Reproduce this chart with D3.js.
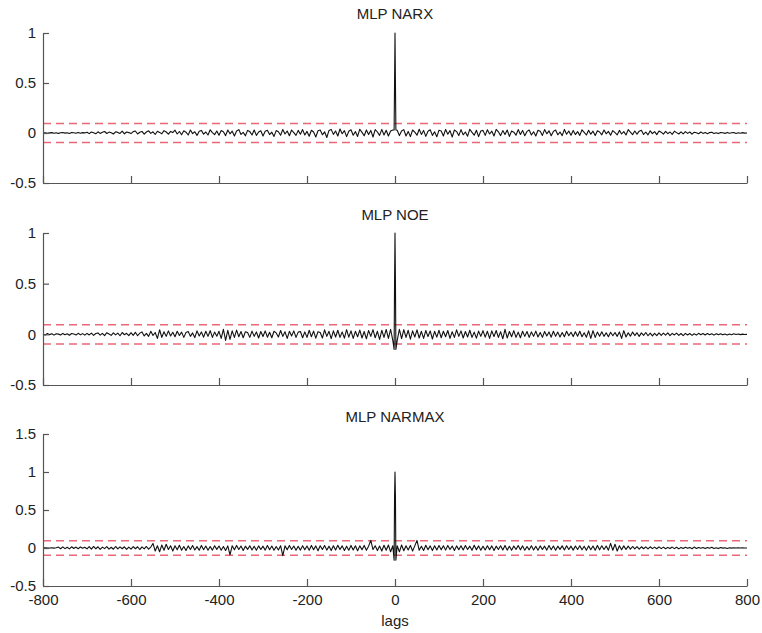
<!DOCTYPE html>
<html><head><meta charset="utf-8">
<script src="https://cdn.jsdelivr.net/npm/d3@7"></script>
<style>
body{margin:0;background:#fff}
text{font-family:"Liberation Sans",Arial,Helvetica,sans-serif}
</style>
</head><body>
<svg id="chart" width="762" height="633"></svg>
<script>
// ---------- data ----------
const titles = ["MLP NARX", "MLP NOE", "MLP NARMAX"];
const lags = d3.range(-800, 801, 5);          // lag categories, every 5 lags
const xTicks = [-800, -600, -400, -200, 0, 200, 400, 600, 800];
const xTickLabels = ["-800", "-600", "-400", "-200", "0", "200", "400", "600", "800"];
const yTicksTop = [-0.5, 0, 0.5, 1];
const yTicksBottom = [-0.5, 0, 0.5, 1, 1.5];
const confBound = 0.095;                      // 95% confidence band (±)
const nearLags = [-2, -1, 1, 2];              // lags right beside the zero-lag peak

const narx = [
0,0.002,-0.003,0.001,0.004,-0.002,0.003,-0.004,0.002,0.005,-0.001,0.003,-0.005,0.004,0.002,-0.003,0.006,-0.002,0.004,0.001,
0.008,-0.006,0.01,0.003,-0.008,0.012,-0.004,0.007,0.015,-0.005,0.009,0.002,-0.01,0.012,0.006,-0.004,0.018,-0.008,0.01,0.004,
-0.006,0.014,0.02,-0.01,0.008,0.016,-0.012,0.01,0.022,-0.004,0.012,-0.015,0.018,0.006,-0.008,0.024,0.01,-0.012,0.016,0.004,
0.028,-0.01,0.015,-0.018,0.022,0.008,-0.02,0.03,-0.006,0.012,-0.024,0.018,0.026,-0.012,0.01,-0.02,0.032,0.004,-0.016,0.02,
-0.022,0.024,0.012,-0.026,0.03,-0.008,0.018,-0.03,0.02,0.034,-0.014,0.006,-0.028,0.026,0.014,-0.02,0.03,-0.024,0.01,0.022,
-0.03,0.018,0.028,-0.016,0.008,-0.034,0.024,0.012,-0.022,0.036,-0.01,0.02,-0.028,0.03,0.004,-0.024,0.026,-0.012,0.034,-0.02,
0.016,-0.032,0.028,0.01,-0.04,0.022,0.03,-0.018,0.012,-0.045,0.026,0.036,-0.014,0.02,-0.03,0.04,-0.008,0.024,-0.036,0.018,
0.032,-0.022,0.014,-0.034,0.038,0.006,-0.028,0.03,-0.016,0.026,-0.04,0.034,0.01,-0.024,0.036,-0.02,0.028,-0.03,0.02,0.03,
1,
0.028,-0.026,0.02,0.034,-0.03,0.016,-0.036,0.03,0.008,-0.022,0.038,-0.014,0.026,-0.034,0.018,0.032,-0.024,0.012,-0.038,0.028,
0.02,-0.03,0.036,-0.012,0.024,-0.04,0.03,0.014,-0.026,0.034,-0.018,0.01,-0.032,0.038,0.006,-0.022,0.028,-0.036,0.02,0.026,
-0.024,0.032,-0.01,0.018,-0.03,0.036,0.012,-0.026,0.024,-0.016,0.03,-0.034,0.02,0.008,-0.022,0.034,-0.014,0.026,-0.028,0.016,
0.03,-0.02,0.012,-0.03,0.028,0.018,-0.024,0.034,-0.008,0.022,-0.028,0.016,0.03,-0.018,0.01,-0.026,0.036,-0.012,0.02,-0.022,
0.026,-0.016,0.014,-0.024,0.032,0.006,-0.02,0.028,-0.012,0.018,-0.026,0.022,0.01,-0.018,0.03,-0.008,0.016,-0.022,0.024,0.004,
-0.018,0.026,-0.01,0.014,-0.02,0.034,0.008,-0.016,0.02,-0.012,0.018,0.028,-0.014,0.01,-0.018,0.022,-0.006,0.014,-0.016,0.02,
0.008,-0.012,0.016,-0.006,0.01,-0.014,0.018,0.004,-0.01,0.012,-0.008,0.014,-0.004,0.01,-0.012,0.008,0.002,-0.008,0.01,-0.004,
0.006,-0.008,0.004,0.007,-0.005,0.003,-0.006,0.005,0.002,-0.004,0.006,-0.003,0.002,0.004,-0.005,0.003,-0.002,0.004,-0.001,0
];
const noe = [
0.004,-0.006,0.008,-0.003,0.005,-0.008,0.006,0.002,-0.007,0.009,-0.004,0.006,-0.009,0.008,0.003,-0.006,0.01,-0.005,0.007,-0.008,
0.01,-0.006,0.012,-0.01,0.008,0.014,-0.008,0.01,-0.012,0.016,0.004,-0.01,0.014,-0.006,0.012,-0.014,0.018,-0.004,0.01,-0.012,
0.016,-0.01,0.02,-0.014,0.012,0.024,-0.016,0.01,-0.02,0.03,-0.012,0.018,-0.04,0.045,-0.03,0.026,-0.02,0.034,-0.016,0.02,
-0.024,0.03,-0.012,0.022,-0.03,0.018,0.028,-0.02,0.014,-0.032,0.034,-0.016,0.024,-0.028,0.03,-0.02,0.036,-0.03,0.022,-0.018,
0.03,-0.04,0.05,-0.06,0.04,-0.05,0.034,-0.03,0.042,-0.024,0.028,-0.034,0.026,0.018,-0.03,0.032,-0.02,0.024,-0.036,0.028,
-0.022,0.034,-0.028,0.02,-0.034,0.03,0.014,-0.026,0.038,-0.02,0.026,-0.04,0.03,-0.016,0.034,-0.03,0.022,0.028,-0.034,0.024,
-0.03,0.04,-0.024,0.032,-0.038,0.026,0.018,-0.036,0.044,-0.02,0.03,-0.042,0.034,-0.026,0.04,-0.03,0.024,-0.038,0.046,-0.028,
0.034,-0.04,0.03,-0.024,0.042,-0.036,0.028,-0.044,0.038,-0.02,0.046,-0.034,0.03,-0.05,0.04,-0.03,0.048,-0.04,0.05,-0.06,
1,
-0.06,0.05,-0.042,0.046,-0.03,0.04,-0.048,0.034,-0.026,0.044,-0.036,0.03,-0.04,0.038,-0.022,0.034,-0.046,0.03,-0.028,0.04,
-0.034,0.03,-0.024,0.038,-0.04,0.026,-0.03,0.044,-0.02,0.034,-0.036,0.028,-0.026,0.04,-0.03,0.022,-0.038,0.032,-0.02,0.036,
-0.028,0.03,-0.04,0.034,-0.022,0.038,-0.03,0.026,-0.044,0.05,-0.036,0.028,-0.024,0.036,-0.03,0.022,-0.034,0.03,-0.02,0.028,
-0.03,0.024,-0.02,0.032,-0.026,0.018,-0.03,0.028,-0.016,0.024,-0.028,0.03,-0.02,0.022,-0.026,0.018,-0.024,0.03,-0.014,0.02,
-0.022,0.026,-0.018,0.03,-0.024,0.016,-0.028,0.034,-0.04,0.036,-0.03,0.022,-0.018,0.026,-0.02,0.016,-0.024,0.02,-0.014,0.018,
-0.02,0.024,-0.04,0.036,-0.026,0.016,-0.018,0.022,-0.012,0.016,-0.02,0.014,-0.01,0.018,-0.014,0.012,-0.016,0.01,-0.012,0.014,
-0.01,0.012,-0.008,0.014,-0.012,0.01,-0.006,0.012,-0.01,0.008,-0.012,0.01,-0.006,0.008,-0.01,0.006,-0.008,0.01,-0.004,0.008,
-0.006,0.008,-0.004,0.006,-0.008,0.005,-0.003,0.006,-0.005,0.004,-0.006,0.003,-0.004,0.005,-0.002,0.004,-0.003,0.002,-0.001,0
];
const narmax = [
0,0.002,-0.002,0.001,0.003,-0.002,0.004,0.012,-0.01,0.014,-0.008,0.01,-0.012,0.016,-0.006,0.012,-0.01,0.014,-0.004,0.01,
-0.012,0.018,-0.014,0.02,-0.01,0.016,-0.018,0.012,-0.008,0.018,-0.014,0.01,-0.016,0.02,-0.012,0.014,-0.01,0.016,-0.018,0.012,
-0.014,0.018,-0.01,0.016,-0.02,0.014,-0.012,0.02,-0.016,0.012,0.06,-0.04,0.03,-0.05,0.04,-0.03,0.05,-0.02,0.03,-0.04,
0.03,-0.024,0.036,-0.03,0.02,-0.034,0.028,-0.02,0.032,-0.026,0.018,-0.03,0.034,-0.022,0.026,-0.03,0.02,-0.028,0.03,-0.018,
0.026,-0.03,0.02,-0.032,0.028,-0.09,0.03,-0.024,0.034,-0.02,0.026,-0.032,0.024,-0.018,0.03,-0.026,0.022,-0.03,0.028,-0.02,
0.024,-0.028,0.032,-0.022,0.026,-0.03,0.02,-0.026,0.03,-0.1,0.028,-0.024,0.034,-0.02,0.026,-0.03,0.022,-0.028,0.03,-0.024,
0.026,-0.03,0.034,-0.022,0.028,-0.036,0.03,-0.02,0.032,-0.028,0.024,-0.034,0.03,-0.026,0.036,-0.02,0.028,-0.032,0.024,-0.03,
0.034,-0.026,0.03,-0.036,0.028,-0.022,0.034,-0.03,0.024,0.1,-0.02,0.03,-0.034,0.026,-0.04,0.036,-0.03,0.04,-0.05,0.03,
1,
0.03,-0.05,0.04,-0.036,0.03,-0.026,0.034,-0.04,0.028,0.1,-0.03,0.024,-0.032,0.036,-0.022,0.028,-0.034,0.03,-0.026,0.032,
-0.024,0.03,-0.028,0.034,-0.02,0.026,-0.032,0.028,-0.022,0.03,-0.026,0.032,-0.02,0.024,-0.03,0.036,-0.024,0.028,-0.03,0.022,
-0.026,0.03,-0.022,0.028,-0.032,0.024,-0.02,0.03,-0.026,0.034,-0.028,0.022,-0.03,0.026,-0.02,0.032,-0.024,0.028,-0.03,0.02,
-0.024,0.03,-0.026,0.022,-0.03,0.028,-0.02,0.024,-0.028,0.032,-0.022,0.026,-0.03,0.024,-0.018,0.028,-0.026,0.03,-0.02,0.024,
-0.028,0.026,-0.02,0.03,-0.024,0.022,-0.03,0.028,-0.022,0.026,-0.03,0.034,-0.024,0.03,-0.02,0.026,-0.028,0.06,-0.03,0.05,
-0.04,0.03,-0.024,0.028,-0.02,0.024,-0.016,0.02,-0.012,0.018,-0.014,0.016,-0.01,0.014,-0.012,0.016,-0.008,0.012,-0.01,0.014,
-0.008,0.012,-0.01,0.008,-0.006,0.012,-0.008,0.01,-0.012,0.008,-0.006,0.01,-0.004,0.008,-0.01,0.012,-0.006,0.008,-0.004,0.006,
-0.008,0.006,-0.004,0.01,-0.006,0.004,-0.008,0.006,-0.002,0.004,-0.006,0.003,-0.002,0.004,-0.001,0.002,0,0.001,0,0
];
const narxNear = [0.03, 0.5, 0.5, 0.03];
const noeNear = [-0.15, 0.52, 0.52, -0.15];
const narmaxNear = [-0.16, 0.68, 0.68, -0.16];

// ---------- drawing ----------
const svg = d3.select("#chart");
const x = d3.scaleLinear().domain([-800, 800]).range([43, 747]);

const panels = [
  {title: titles[0], values: narx, near: narxNear, domain: [-0.5, 1], range: [183, 33], ticks: yTicksTop, titleY: 19, showX: false},
  {title: titles[1], values: noe, near: noeNear, domain: [-0.5, 1], range: [385, 233], ticks: yTicksTop, titleY: 220, showX: false},
  {title: titles[2], values: narmax, near: narmaxNear, domain: [-0.5, 1.5], range: [586, 434], ticks: yTicksBottom, titleY: 422, showX: true}
];

const fmt = v => (v === 0 ? "0" : String(v));

panels.forEach(p => {
  const y = d3.scaleLinear().domain(p.domain).range(p.range);
  const g = svg.append("g");

  const pts = lags.map((l, i) => [l, p.values[i]])
    .concat(nearLags.map((l, i) => [l, p.near[i]]))
    .sort((a, b) => a[0] - b[0]);

  [confBound, -confBound].forEach(b => {
    g.append("line")
      .attr("x1", x(-800)).attr("x2", x(800))
      .attr("y1", y(b)).attr("y2", y(b))
      .attr("stroke", "#e85868").attr("stroke-width", 1.6)
      .attr("stroke-dasharray", "8,5").attr("opacity", 0.9);
  });

  g.append("path")
    .datum(pts)
    .attr("fill", "none")
    .attr("stroke", "#111")
    .attr("stroke-width", 1.1)
    .attr("stroke-linejoin", "round")
    .attr("d", d3.line().x(d => x(d[0])).y(d => y(d[1])));

  const xAxis = d3.axisBottom(x).tickValues(xTicks)
    .tickSizeInner(-7).tickSizeOuter(0).tickPadding(8)
    .tickFormat((d, i) => p.showX ? xTickLabels[i] : "");
  const gx = g.append("g").attr("transform", `translate(0,${y(p.domain[0])})`).call(xAxis);

  const yAxis = d3.axisLeft(y).tickValues(p.ticks)
    .tickSizeInner(-6).tickSizeOuter(0).tickPadding(7)
    .tickFormat(fmt);
  const gy = g.append("g").attr("transform", `translate(${x(-800)},0)`).call(yAxis);

  [gx, gy].forEach(a => {
    a.select(".domain").attr("stroke", "#555").attr("stroke-width", 1.2);
    a.selectAll(".tick line").attr("stroke", "#555").attr("stroke-width", 1.2);
    a.selectAll(".tick text").attr("fill", "#222").style("font-size", "15px")
      .style("font-family", '"Liberation Sans", Arial, sans-serif');
  });

  svg.append("text")
    .attr("x", x(0)).attr("y", p.titleY)
    .attr("text-anchor", "middle")
    .style("font-size", "15px").attr("fill", "#222")
    .text(p.title);
});

svg.append("text")
  .attr("x", x(0)).attr("y", 626)
  .attr("text-anchor", "middle")
  .style("font-size", "15px").attr("fill", "#222")
  .text("lags");
</script>
</body></html>
